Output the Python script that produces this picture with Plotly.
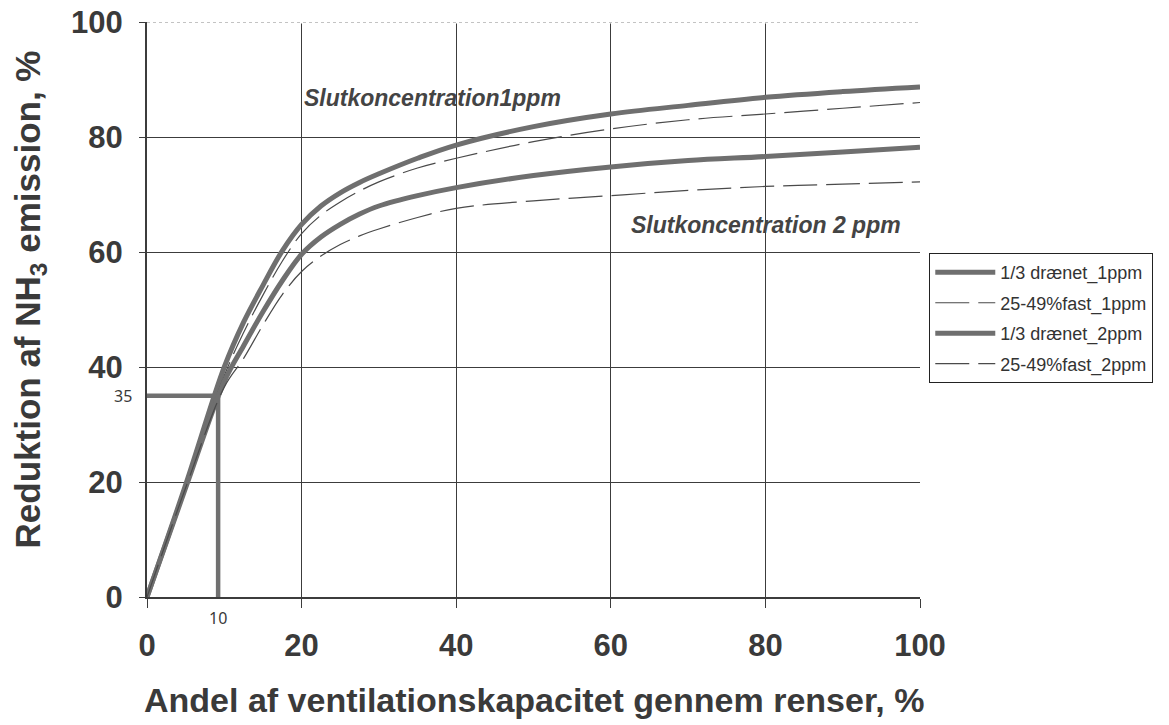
import plotly.graph_objects as go

# ---------------- data ----------------
x_share = [0, 5, 10, 12.5, 15, 17.5, 20, 22.5, 25, 27.5, 30, 35, 40, 50, 60, 70, 80, 90, 100]

draenet_1ppm = [0, 19.5, 40.0, 47.8, 54.2, 60.2, 64.8, 68.0, 70.3, 72.1, 73.6, 76.3, 78.6, 81.8, 84.0, 85.5, 86.9, 87.9, 88.7]
fast_1ppm    = [0, 19.0, 38.5, 46.0, 52.5, 58.4, 63.2, 66.4, 68.7, 70.6, 72.2, 74.6, 76.3, 79.2, 81.4, 83.0, 84.0, 85.0, 86.0]
draenet_2ppm = [0, 19.0, 37.5, 43.7, 49.6, 55.0, 59.6, 62.6, 64.8, 66.6, 68.0, 69.8, 71.2, 73.3, 74.8, 75.9, 76.6, 77.4, 78.2]
fast_2ppm    = [0, 19.0, 36.5, 41.5, 47.3, 52.6, 56.6, 59.3, 61.3, 62.8, 64.0, 66.0, 67.6, 68.9, 69.8, 70.7, 71.4, 71.8, 72.2]

series_names = ["1/3 drænet_1ppm", "25-49%fast_1ppm", "1/3 drænet_2ppm", "25-49%fast_2ppm"]

# reference (read-off) lines
ref_x = 9.2
ref_y = 35
ref_x_label = "10"
ref_y_label = "35"

x_ticks = [0, 20, 40, 60, 80, 100]
y_ticks = [0, 20, 40, 60, 80, 100]

label_1ppm = "Slutkoncentration1ppm"
label_2ppm = "Slutkoncentration 2 ppm"

x_title = "Andel af ventilationskapacitet gennem renser, %"
y_title = "Reduktion af NH<sub>3</sub> emission, %"

# ---------------- figure ----------------
FONT = "Liberation Sans, Arial, sans-serif"
TXT = "#3a3a3a"
GRID = "#3c3c3c"
THICK = "#6f6f6f"
THIN = "#4a4a4a"

fig = go.Figure()

# read-off lines (drawn first, under the curves)
fig.add_trace(go.Scatter(x=[0, ref_x], y=[ref_y, ref_y], mode="lines",
                         line=dict(color="#707070", width=4.5), showlegend=False,
                         hoverinfo="skip"))
fig.add_trace(go.Scatter(x=[ref_x, ref_x], y=[0, ref_y], mode="lines",
                         line=dict(color="#707070", width=4.5), showlegend=False,
                         hoverinfo="skip"))

styles = [
    dict(color=THICK, width=5),
    dict(color=THIN, width=1.2, dash="34px,9px"),
    dict(color=THICK, width=5),
    dict(color=THIN, width=1.2, dash="34px,9px"),
]
for name, ys, st, g in zip(series_names,
                           [draenet_1ppm, fast_1ppm, draenet_2ppm, fast_2ppm],
                           styles, ["a", "b", "c", "d"]):
    fig.add_trace(go.Scatter(x=x_share, y=ys, mode="lines", name=name,
                             line=dict(shape="spline", smoothing=1.0, **st),
                             legendgroup=g))

fig.update_layout(
    width=1169, height=725,
    paper_bgcolor="white", plot_bgcolor="white",
    margin=dict(l=147, r=249, t=22, b=128, autoexpand=False),
    font=dict(family=FONT, color=TXT),
    showlegend=True,
    legend=dict(x=1.012, y=0.598, xanchor="left", yanchor="top",
                bordercolor="#222", borderwidth=1, bgcolor="white",
                font=dict(family=FONT, size=18, color="#333"),
                itemwidth=60, tracegroupgap=4, traceorder="grouped"),
)

fig.update_xaxes(
    range=[0, 100], tickvals=x_ticks, ticktext=[str(v) for v in x_ticks],
    showgrid=True, gridcolor=GRID, gridwidth=1.3,
    showline=True, linecolor=GRID, linewidth=2,
    ticks="outside", ticklen=9, tickcolor=GRID, tickwidth=1.3,
    tickfont=dict(family=FONT, size=31, color=TXT, weight="bold"),
    ticklabelstandoff=11, automargin=False, ticklabeloverflow="allow",
    zeroline=False,
)
fig.update_yaxes(
    range=[0, 100], tickvals=y_ticks, ticktext=[str(v) for v in y_ticks],
    showgrid=True, gridcolor=GRID, gridwidth=1.3,
    showline=True, linecolor=GRID, linewidth=2,
    ticks="outside", ticklen=6, tickcolor=GRID, tickwidth=1.3,
    tickfont=dict(family=FONT, size=31, color=TXT, weight="bold"),
    ticklabelstandoff=10, automargin=False, ticklabeloverflow="allow",
    zeroline=False,
)

# axis titles
fig.add_annotation(x=0.5, y=-0.179, xref="paper", yref="paper", text=x_title,
                   showarrow=False, xanchor="center", yanchor="middle",
                   font=dict(family=FONT, size=34, color=TXT, weight="bold"))
fig.add_annotation(x=-0.151, y=0.518, xref="paper", yref="paper", text=y_title,
                   showarrow=False, xanchor="center", yanchor="middle", textangle=-90,
                   font=dict(family=FONT, size=35, color=TXT, weight="bold"))

# lighter dotted top border
fig.add_shape(type="line", xref="x", yref="y", x0=0, x1=100, y0=100, y1=100,
              line=dict(color="white", width=3), layer="above")
fig.add_shape(type="line", xref="x", yref="y", x0=0, x1=100, y0=100, y1=100,
              line=dict(color="#888", width=1.2, dash="dot"), layer="above")

# small read-off labels
fig.add_annotation(x=ref_x, y=0, xref="x", yref="y", text=ref_x_label,
                   showarrow=False, yshift=-21,
                   font=dict(family="Noto Sans, sans-serif", size=16, color=TXT))
fig.add_annotation(x=0, y=ref_y, xref="x", yref="y", text=ref_y_label,
                   showarrow=False, xanchor="right", xshift=-13,
                   font=dict(family="Noto Sans, sans-serif", size=16, color=TXT))

# curve labels
fig.add_annotation(x=36.9, y=86.8, xref="x", yref="y", text=label_1ppm,
                   showarrow=False,
                   font=dict(family=FONT, size=23, color="#444", weight="bold",
                             style="italic"))
fig.add_annotation(x=80.1, y=64.7, xref="x", yref="y", text=label_2ppm,
                   showarrow=False,
                   font=dict(family=FONT, size=23, color="#444", weight="bold",
                             style="italic"))

# remove the default 8px page margin so the figure fills the window exactly
fig.write_html("out.html", config={"displayModeBar": False},
               post_script="document.body.style.margin='0';")
